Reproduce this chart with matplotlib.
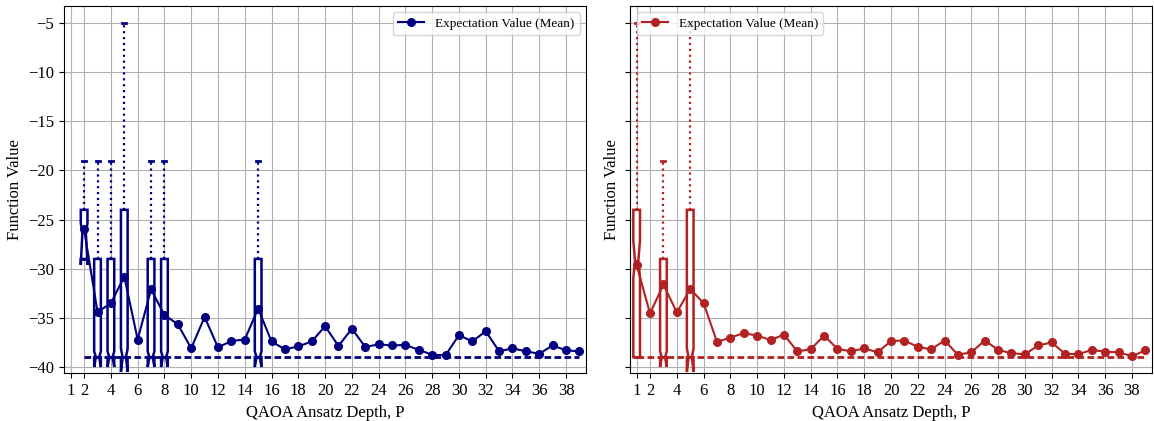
import numpy as np
import matplotlib.pyplot as plt

plt.rcParams['font.family'] = ['Liberation Serif', 'DejaVu Serif']
plt.rcParams['font.size'] = 12

# left panel: depths 2..39
depth_a = np.arange(2, 40)
mean_a = [-26.0, -34.4, -33.5, -30.8, -37.2, -32.1, -34.7, -35.65, -38.1, -34.9,
          -38.0, -37.35, -37.2, -34.05, -37.4, -38.2, -37.9, -37.4, -35.85, -37.85,
          -36.1, -37.95, -37.7, -37.8, -37.75, -38.25, -38.75, -38.8, -36.75, -37.4,
          -36.35, -38.4, -38.1, -38.4, -38.65, -37.8, -38.3, -38.4]

# right panel: depths 1..39
depth_b = np.arange(1, 40)
mean_b = [-29.65, -34.55, -31.6, -34.45, -32.05, -33.5, -37.45, -37.0, -36.55, -36.8,
          -37.25, -36.7, -38.4, -38.2, -36.8, -38.15, -38.4, -38.1, -38.5, -37.35,
          -37.3, -37.95, -38.2, -37.3, -38.75, -38.5, -37.3, -38.25, -38.6, -38.7,
          -37.8, -37.5, -38.65, -38.7, -38.25, -38.45, -38.5, -38.9, -38.3]

ground_energy = -39.0

# box statistics, only where the spread is not zero
box_pos_a = [2, 3, 4, 5, 7, 8, 15]
q1_a = [-29, -39, -39, -39, -39, -39, -39]
med_a = [-26.2, -39, -39, -39, -39, -39, -39]
q3_a = [-24, -29, -29, -24, -29, -29, -29]
whislo_a = [-29, -39, -39, -39, -39, -39, -39]
whishi_a = [-19, -19, -19, -5, -19, -19, -19]
cilo_a = [-29.6, -40.0, -40.0, -40.5, -40.0, -40.0, -40.0]
cihi_a = [-25.4, -38.4, -38.4, -38.1, -38.4, -38.4, -38.4]

box_pos_b = [1, 3, 5]
q1_b = [-39, -39, -39]
med_b = [-29.2, -39, -39]
q3_b = [-24, -29, -24]
whislo_b = [-39, -39, -39]
whishi_b = [-5, -19, -5]
cilo_b = [-30.9, -40.0, -40.5]
cihi_b = [-27.1, -38.4, -38.1]

xticks = [1] + list(range(2, 40, 2))


def draw_panel(ax, depth, mean, pos, q1, med, q3, wlo, whi, cilo, cihi, color, legend_loc):
    stats = []
    for i in range(len(pos)):
        stats.append(dict(q1=q1[i], med=med[i], q3=q3[i], whislo=wlo[i], whishi=whi[i],
                          cilo=cilo[i], cihi=cihi[i], fliers=[]))
    # ground-state line sits under the boxes
    ax.hlines(ground_energy, depth[0], depth[-1], colors=color, linewidth=2,
              linestyles=(0, (2.4, 1.2)), zorder=1.5)
    ax.bxp(stats, positions=pos, widths=0.5, shownotches=True, patch_artist=True,
           showfliers=False, capwidths=0.3,
           boxprops=dict(facecolor='white', edgecolor=color, linewidth=1.8),
           whiskerprops=dict(color=color, linestyle=':', linewidth=1.6),
           capprops=dict(color=color, linewidth=2),
           medianprops=dict(color=color, linestyle='--', linewidth=1.5),
           manage_ticks=False)
    ax.plot(depth, mean, '-o', color=color, linewidth=1.5, markersize=5.5,
            label='Expectation Value (Mean)', zorder=4)
    ax.set_xlim(0.5, 39.5)
    ax.set_xticks(xticks)
    ax.set_yticks(range(-40, -4, 5))
    ax.set_ylim(-40.65, -3.25)
    ax.grid(True)
    ax.set_axisbelow(True)
    ax.set_xlabel('QAOA Ansatz Depth, P')
    ax.set_ylabel('Function Value')
    ax.legend(loc=legend_loc, fontsize=9.5)


fig, (ax1, ax2) = plt.subplots(1, 2, sharey=True, figsize=(11.54, 4.21), dpi=100)
fig.subplots_adjust(left=0.0555, right=0.9983, bottom=0.113, top=0.986, wspace=0.084)

draw_panel(ax1, depth_a, mean_a, box_pos_a, q1_a, med_a, q3_a, whislo_a, whishi_a,
           cilo_a, cihi_a, 'navy', 'upper right')
draw_panel(ax2, depth_b, mean_b, box_pos_b, q1_b, med_b, q3_b, whislo_b, whishi_b,
           cilo_b, cihi_b, 'firebrick', 'upper left')

fig.savefig('out.png', dpi=100)
